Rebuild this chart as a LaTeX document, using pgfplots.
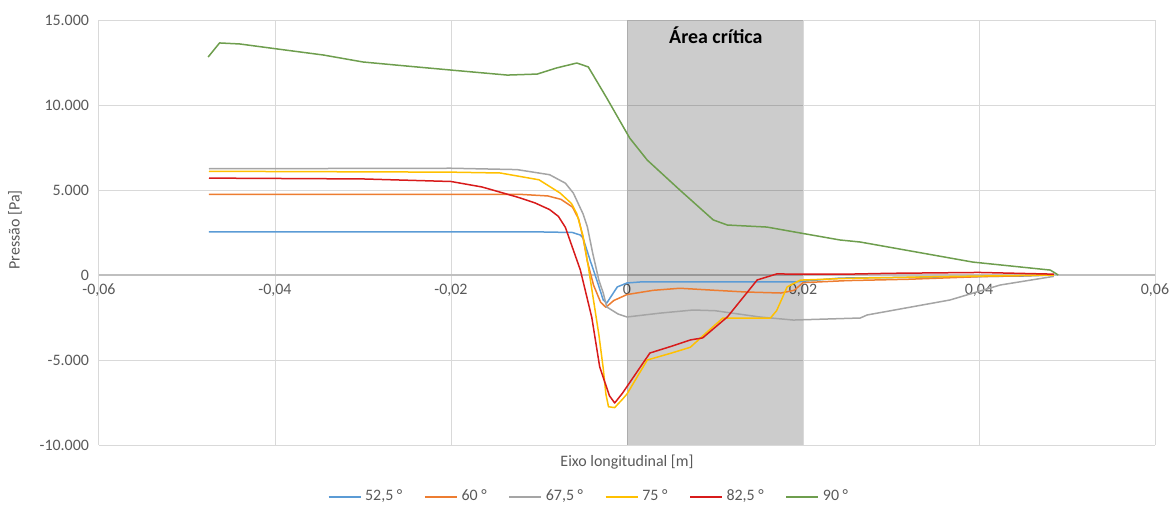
\documentclass[border=0pt]{standalone}
\usepackage{fontspec}
\setmainfont{Carlito}
\usepackage{pgfplots}
\pgfplotsset{compat=1.18}

\definecolor{tickgrey}{HTML}{595959}
\definecolor{gridgrey}{HTML}{D9D9D9}
\definecolor{axisgrey}{HTML}{BFBFBF}
\definecolor{cA}{HTML}{5B9BD5}
\definecolor{cB}{HTML}{ED7D31}
\definecolor{cC}{HTML}{A5A5A5}
\definecolor{cD}{HTML}{FFC000}
\definecolor{cE}{HTML}{D81B1B}
\definecolor{cF}{HTML}{6E9E4E}

\begin{document}
\begin{tikzpicture}
\begin{axis}[
  scale only axis,
  width=528bp, height=212.5bp,
  xmin=-0.06, xmax=0.06,
  ymin=-10000, ymax=15000,
  scaled ticks=false,
  axis x line=middle,
  axis y line=left,
  y axis line style={draw=none},
  x axis line style={draw=axisgrey, line width=0.75bp, -},
  hide obscured x ticks=false,
  hide obscured y ticks=false,
  xtick={-0.06,-0.04,-0.02,0,0.02,0.04,0.06},
  xticklabels={{-0,06},{-0,04},{-0,02},{0},{0,02},{0,04},{0,06}},
  ytick={-10000,-5000,0,5000,10000,15000},
  yticklabels={{-10.000},{-5.000},{0},{5.000},{10.000},{15.000}},
  major tick length=0pt,
  grid=major,
  major grid style={draw=gridgrey, line width=0.5bp},
  tick label style={font=\fontsize{8}{9}\selectfont, text=tickgrey},
  xticklabel style={anchor=north, yshift=-1bp},
  yticklabel style={anchor=east, xshift=-1.5bp},
  xlabel={Eixo longitudinal [m]},
  ylabel={Pressão [Pa]},
  label style={font=\fontsize{8}{9}\selectfont, text=tickgrey},
  xlabel style={at={(axis description cs:0.5,-0.04)}, anchor=center},
  ylabel style={at={(axis description cs:-0.0795,0.506)}, anchor=center, rotate=0},
  legend columns=6,
  legend style={draw=none, fill=none, at={(axis description cs:0.465,-0.1224)}, anchor=center,
    font=\fontsize{8}{9}\selectfont, text=tickgrey,
    /tikz/every even column/.append style={column sep=9bp}},
  legend image code/.code={\draw[#1, line width=0.6bp] (0bp,0bp) -- (16bp,0bp);},
  every axis plot/.append style={line width=0.75bp, line join=round},
]

% critical region band
\addplot[draw=none, fill=black, fill opacity=0.2, forget plot]
  coordinates {(0,-10000) (0.02,-10000) (0.02,15000) (0,15000)} -- cycle;
\node[font=\fontsize{10}{12}\selectfont\bfseries, text=black] at (axis cs:0.0101,14100) {Área crítica};

% 52,5 deg
\addplot[cA] coordinates {
(-0.0475,2530) (-0.0200,2530) (-0.0095,2530) (-0.0062,2500) (-0.0053,2350) (-0.0050,2180)
(-0.0042,880) (-0.0034,-350) (-0.0027,-1470) (-0.0023,-1650) (-0.0011,-700) (0,-470)
(0.0015,-410) (0.0100,-400) (0.0193,-400) (0.0242,-180) (0.0350,-120) (0.0450,-60) (0.0485,0)
};
\addlegendentry{52,5 °}

% 60 deg
\addplot[cB] coordinates {
(-0.0475,4750) (-0.0200,4750) (-0.0120,4740) (-0.0090,4650) (-0.0075,4450) (-0.0062,4000)
(-0.0055,3300) (-0.0050,2200) (-0.0045,800) (-0.0038,-600) (-0.0030,-1600) (-0.0024,-1900)
(-0.0015,-1500) (0,-1150) (0.0030,-900) (0.0060,-780) (0.0100,-900) (0.0135,-1000)
(0.0175,-1060) (0.0190,-900) (0.0200,-450) (0.0250,-330) (0.0320,-250) (0.0400,-100) (0.0485,0)
};
\addlegendentry{60 °}

% 67,5 deg
\addplot[cC] coordinates {
(-0.0475,6250) (-0.0200,6280) (-0.0125,6200) (-0.0088,5900) (-0.0070,5400) (-0.0061,4820)
(-0.0050,3600) (-0.0045,2820) (-0.0039,1290) (-0.0032,-300) (-0.0027,-1060) (-0.0023,-1880)
(-0.0010,-2300) (0,-2470) (0.0038,-2240) (0.0075,-2060) (0.0100,-2100) (0.0151,-2470)
(0.0189,-2650) (0.0265,-2530) (0.0273,-2350) (0.0367,-1470) (0.0424,-590) (0.0485,-80)
};
\addlegendentry{67,5 °}

% 75 deg
\addplot[cD] coordinates {
(-0.0475,6100) (-0.0200,6050) (-0.0144,6000) (-0.0100,5600) (-0.0076,4820) (-0.0063,4200)
(-0.0057,3600) (-0.0050,2300) (-0.0044,500) (-0.0038,-1500) (-0.0032,-3500) (-0.0027,-5500)
(-0.0024,-7000) (-0.0021,-7750) (-0.0014,-7800) (-0.0005,-7300) (0.0000,-7000) (0.0023,-5000)
(0.0050,-4600) (0.0072,-4250) (0.0090,-3400) (0.0109,-2530) (0.0163,-2530) (0.0170,-2100)
(0.0182,-700) (0.0197,-300) (0.0250,-200) (0.0350,-100) (0.0485,0)
};
\addlegendentry{75 °}

% 82,5 deg
\addplot[cE] coordinates {
(-0.0475,5700) (-0.0300,5650) (-0.0200,5500) (-0.0165,5180) (-0.0125,4590) (-0.0105,4250)
(-0.0088,3850) (-0.0078,3450) (-0.0070,2800) (-0.0065,2060) (-0.0053,290) (-0.0040,-2500)
(-0.0031,-5410) (-0.0020,-7100) (-0.0014,-7530) (-0.0005,-6940) (0.0026,-4590) (0.0050,-4200)
(0.0072,-3820) (0.0086,-3700) (0.0114,-2470) (0.0148,-290) (0.0170,60) (0.0250,50)
(0.0300,100) (0.0400,150) (0.0485,50)
};
\addlegendentry{82,5 °}

% 90 deg
\addplot[cF] coordinates {
(-0.0476,12820) (-0.0463,13650) (-0.0440,13590) (-0.0398,13300) (-0.0345,12940) (-0.0300,12530)
(-0.0250,12290) (-0.0201,12060) (-0.0136,11760) (-0.0102,11820) (-0.0080,12180) (-0.0057,12470)
(-0.0044,12240) (-0.0023,10410) (0.0003,8060) (0.0023,6760) (0.0060,5000) (0.0098,3240)
(0.0114,2940) (0.0159,2820) (0.0197,2470) (0.0242,2060) (0.0265,1940) (0.0393,760)
(0.0481,290) (0.0490,0)
};
\addlegendentry{90 °}

\end{axis}
\pgfresetboundingbox
\path[use as bounding box]
  ([xshift=-49.5bp,yshift=-35.5bp]current axis.south west)
  rectangle ([xshift=535.5bp,yshift=222.5bp]current axis.south west);
\end{tikzpicture}
\end{document}
